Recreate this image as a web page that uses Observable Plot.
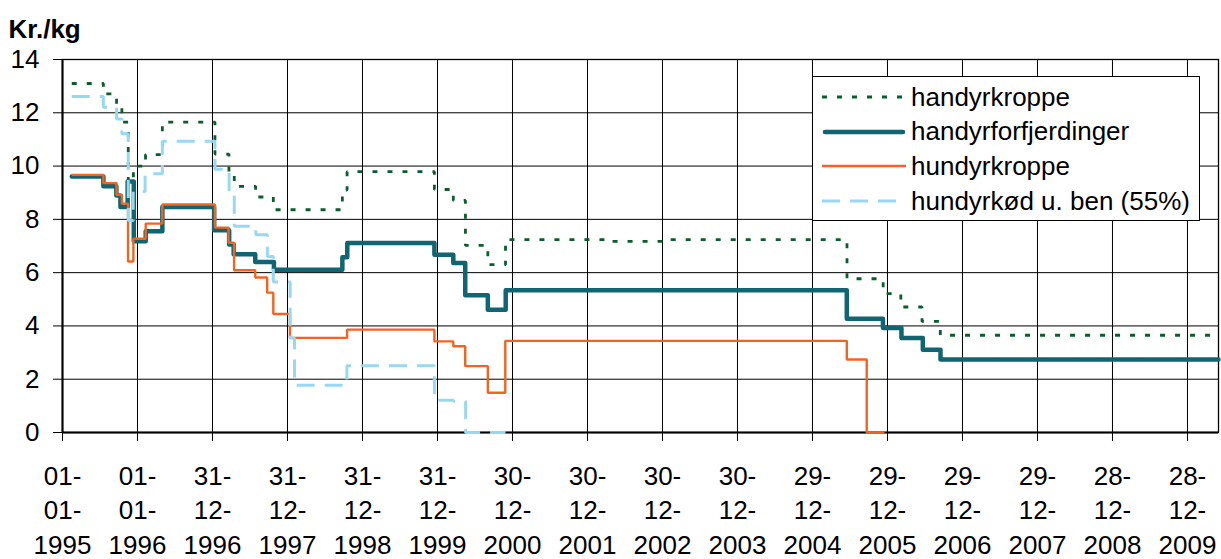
<!DOCTYPE html>
<html><head><meta charset="utf-8">
<script src="https://cdn.jsdelivr.net/npm/d3@7"></script>
<script src="https://cdn.jsdelivr.net/npm/@observablehq/plot@0.6"></script>
<style>
body{margin:0;background:#fff;font-family:Arial,"Liberation Sans",sans-serif;}
#wrap{position:relative;width:1221px;height:559px;overflow:hidden;}
#legend{position:absolute;left:812px;top:76px;width:388px;height:145px;border:1px solid #000;background:#fff;box-sizing:border-box;}
.row{position:absolute;left:0;height:34px;display:flex;align-items:center;font-size:26px;color:#000;white-space:nowrap;}
.row svg{margin-left:9px;margin-right:5px;}
</style></head><body><div id="wrap"><div id="chart"></div><div id="legend"></div></div>
<script>
// ---- data ----
const tickLabels = ["01-01-1995","01-01-1996","31-12-1996","31-12-1997","31-12-1998","31-12-1999","30-12-2000","30-12-2001","30-12-2002","30-12-2003","29-12-2004","29-12-2005","29-12-2006","29-12-2007","28-12-2008","28-12-2009"];
const yTicks = [0,2,4,6,8,10,12,14];
const seriesNames = ["handyrkroppe","handyrforfjerdinger","hundyrkroppe","hundyrkød u. ben (55%)"];
const yTitle = "Kr./kg";

const handyrkroppeDates = ["1995-02-15","1995-07-19","1995-09-21","1995-10-17","1995-11-17","1995-12-12","1996-02-09","1996-05-01","1997-01-12","1997-03-21","1997-04-16","1997-07-29","1997-10-23","1998-09-24","1998-10-17","1999-12-16","2000-03-17","2000-05-15","2000-09-01","2000-11-26","2002-04-25","2003-02-01","2005-06-15","2005-12-08","2006-03-04","2006-06-15","2006-09-12","2010-05-28"];
const handyrkroppeValues = [13.10,12.71,12.20,11.65,9.40,10.00,10.43,11.65,10.45,9.65,9.24,8.84,8.36,9.10,9.79,9.12,8.71,7.02,6.30,7.24,7.17,7.24,5.77,5.21,4.71,4.17,3.65,3.65];

const forfjerdingerDates = ["1995-02-15","1995-07-19","1995-09-20","1995-10-10","1995-11-14","1995-12-14","1996-02-10","1996-05-01","1997-01-08","1997-03-22","1997-04-13","1997-07-27","1997-10-26","1998-09-24","1998-10-18","1999-12-16","2000-03-17","2000-05-14","2000-09-01","2000-11-27","2005-06-14","2005-12-07","2006-03-07","2006-06-19","2006-09-13","2010-05-28"];
const forfjerdingerValues = [9.61,9.24,8.90,8.46,9.42,7.18,7.55,8.46,7.59,7.06,6.69,6.40,6.11,6.58,7.11,6.67,6.36,5.15,4.61,5.34,4.27,3.92,3.55,3.11,2.74,2.74];

const hundyrkroppeDates = ["1995-02-15","1995-07-19","1995-09-21","1995-10-17","1995-11-16","1995-12-12","1996-02-10","1996-05-01","1997-01-12","1997-03-19","1997-04-15","1997-07-27","1997-09-23","1997-10-23","1998-01-12","1998-10-17","1999-12-16","2000-03-17","2000-05-14","2000-09-01","2000-11-25","2005-06-14","2005-09-19","2005-12-15"];
const hundyrkroppeValues = [9.67,9.36,8.92,8.59,6.42,7.27,7.84,8.56,7.69,7.12,6.09,5.82,5.25,4.45,3.55,3.86,3.42,3.24,2.49,1.49,3.44,2.74,0,0];

const hundyrkoedDates = ["1995-02-15","1995-07-19","1995-09-21","1995-10-17","1995-11-17","1995-12-11","1996-02-07","1996-05-01","1997-01-12","1997-03-22","1997-04-16","1997-07-30","1997-09-24","1997-10-23","1998-01-13","1998-02-03","1998-10-16","1999-12-16","2000-03-18","2000-05-16","2000-11-26"];
const hundyrkoedValues = [12.61,12.21,11.77,11.21,7.96,9.05,9.71,10.93,9.88,9.05,7.74,7.42,6.61,5.65,3.55,1.77,2.51,1.21,1.17,0,0];

const styles = [
  {stroke:"#0b5c2f", strokeWidth:2.8, strokeDasharray:"5 10", strokeLinecap:"butt", strokeLinejoin:"miter"},
  {stroke:"#0f6571", strokeWidth:4.5, strokeLinecap:"round", strokeLinejoin:"round"},
  {stroke:"#f0651f", strokeWidth:2.4, strokeLinecap:"butt", strokeLinejoin:"miter"},
  {stroke:"#99d8f2", strokeWidth:3, strokeDasharray:"18 10", strokeLinecap:"butt", strokeLinejoin:"miter"}
];

// ---- build ----
const parseISO = s => new Date(s + "T00:00:00Z");
const parseDMY = s => { const [d,m,y] = s.split("-").map(Number); return new Date(Date.UTC(y, m-1, d)); };
const rows = (dates, values) => dates.map((d,i) => ({date: parseISO(d), value: values[i]}));
const series = [
  rows(handyrkroppeDates, handyrkroppeValues),
  rows(forfjerdingerDates, forfjerdingerValues),
  rows(hundyrkroppeDates, hundyrkroppeValues),
  rows(hundyrkoedDates, hundyrkoedValues)
];
const tickDates = tickLabels.map(parseDMY);
const labelByTime = new Map(tickDates.map((d,i) => [+d, tickLabels[i].replace(/-/g, "-\n")]));

const chart = Plot.plot({
  width: 1221, height: 559,
  marginLeft: 62, marginRight: 3, marginTop: 59, marginBottom: 127,
  style: {fontFamily: 'Arial, "Liberation Sans", sans-serif', fontSize: "26px", color: "#000", background: "#fff"},
  x: {type: "utc", domain: [tickDates[0], parseISO("2010-05-28")]},
  y: {domain: [0, 14]},
  marks: [
    Plot.gridY({ticks: yTicks, stroke: "#000", strokeOpacity: 1, strokeWidth: 1}),
    Plot.gridX({ticks: tickDates, stroke: "#000", strokeOpacity: 1, strokeWidth: 1}),
    Plot.frame({stroke: "#000", strokeWidth: 1.3}),
    Plot.ruleY([0], {stroke: "#000", strokeWidth: 2.2}),
    Plot.ruleX([tickDates[0]], {stroke: "#000", strokeWidth: 2}),
    ...series.map((s, i) => Plot.line(s, {x: "date", y: "value", curve: "step-after", ...styles[i]})),
    Plot.axisY({ticks: yTicks, tickSize: 9, tickPadding: 14, fontSize: 26, label: null, stroke: "#000"}),
    Plot.axisX({ticks: tickDates, tickFormat: d => labelByTime.get(+d), tickSize: 9, tickPadding: 19, fontSize: 26, lineHeight: 1.32, label: null, stroke: "#000"}),
    Plot.text([yTitle], {frameAnchor: "top-left", text: d => d, dx: -54, dy: -22, lineAnchor: "bottom", textAnchor: "start", fontSize: 26, fontWeight: "bold", fill: "#000"})
  ]
});
document.getElementById("chart").appendChild(chart);

// ---- legend ----
const legend = document.getElementById("legend");
const rowTops = [3, 37.5, 72, 107];
seriesNames.forEach((name, i) => {
  const st = styles[i];
  const row = document.createElement("div");
  row.className = "row";
  row.style.top = rowTops[i] + "px";
  const cap = st.strokeLinecap || "butt";
  row.innerHTML = `<svg width="84" height="34"><line x1="${cap==='round'?3:0}" y1="17" x2="${cap==='round'?81:84}" y2="17" stroke="${st.stroke}" stroke-width="${st.strokeWidth}" ${st.strokeDasharray?`stroke-dasharray="${st.strokeDasharray}"`:""} stroke-linecap="${cap}"/></svg><span>${name}</span>`;
  legend.appendChild(row);
});
</script></body></html>
